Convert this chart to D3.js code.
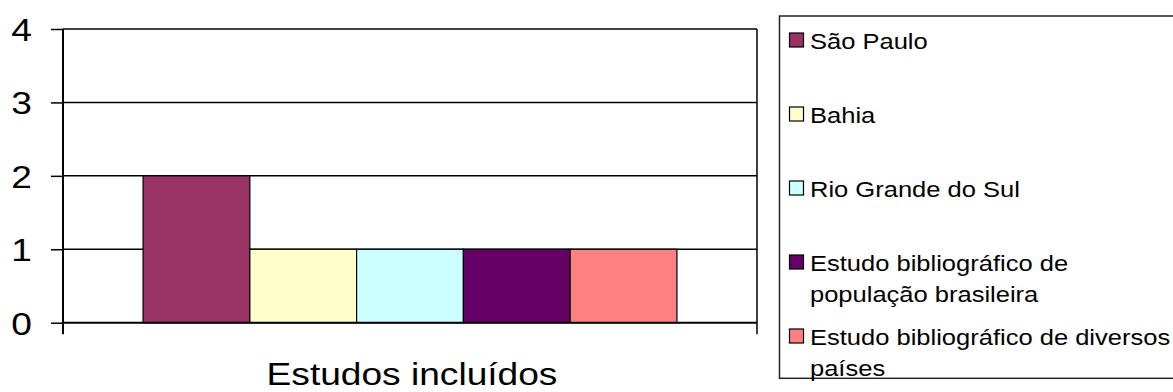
<!DOCTYPE html>
<html><head><meta charset="utf-8">
<script src="https://cdn.jsdelivr.net/npm/d3@7"></script>
<style>html,body{margin:0;padding:0;background:#fff;}svg{display:block;font-family:"Liberation Sans",Arial,sans-serif;}</style>
</head><body>
<svg id="c" width="1173" height="392"></svg>
<script>
const category = "Estudos incluídos";
const seriesNames = ["São Paulo","Bahia","Rio Grande do Sul","Estudo bibliográfico de população brasileira","Estudo bibliográfico de diversos países"];
const legendLines = [["São Paulo"],["Bahia"],["Rio Grande do Sul"],["Estudo bibliográfico de","população brasileira"],["Estudo bibliográfico de diversos","países"]];
const seriesValues = [2,1,1,1,1];
const seriesColors = ["#993366","#FFFFCC","#CCFFFF","#660066","#FF8080"];
const yTicks = [0,1,2,3,4];

const svg = d3.select("#c");
const L = 63, R = 757, T = 29, B = 322.7;
const SX = 1.16;

const y = d3.scaleLinear().domain([0,4]).range([B,T]);
const x0 = d3.scaleBand().domain([category]).range([L,R]);
const bw = x0.bandwidth()/6.5;
const x1 = d3.scaleBand().domain(seriesNames).range([0.75*bw, 5.75*bw]);

// gridlines
svg.append("g").selectAll("line").data(yTicks.filter(d=>d>0)).join("line")
  .attr("x1",L).attr("x2",R).attr("y1",d=>y(d)).attr("y2",d=>y(d))
  .attr("stroke","#000").attr("stroke-width",1.5);

// right border of plot area
svg.append("line").attr("x1",R).attr("x2",R).attr("y1",T).attr("y2",B+11.5)
  .attr("stroke","#000").attr("stroke-width",1.5);

// bars
svg.append("g").selectAll("rect").data(seriesNames).join("rect")
  .attr("x",d=>x0(category)+x1(d)).attr("width",x1.bandwidth())
  .attr("y",(d,i)=>y(seriesValues[i])).attr("height",(d,i)=>y(0)-y(seriesValues[i]))
  .attr("fill",(d,i)=>seriesColors[i]).attr("stroke","#000").attr("stroke-width",1.2);

// y axis
const ya = svg.append("g").attr("transform",`translate(${L},0)`)
  .call(d3.axisLeft(y).tickValues(yTicks).tickSize(12).tickSizeOuter(0).tickPadding(19).tickFormat(d3.format("d")));
ya.select(".domain").remove();
ya.selectAll(".tick line").attr("stroke","#000").attr("stroke-width",1.5);
ya.selectAll(".tick text").attr("font-size",32).attr("fill","#000")
  .attr("font-family",'"Liberation Sans",Arial,sans-serif')
  .each(function(){const t=d3.select(this);const xx=+t.attr("x");t.attr("x",0).attr("dy","0.36em").attr("transform",`translate(${xx},0) scale(${SX},1)`);});
svg.append("line").attr("x1",L).attr("x2",L).attr("y1",T).attr("y2",B+11.5).attr("stroke","#000").attr("stroke-width",2);
svg.append("line").attr("x1",L).attr("x2",R).attr("y1",B).attr("y2",B).attr("stroke","#000").attr("stroke-width",2);

// x axis title
svg.append("text").attr("text-anchor","middle").attr("font-size",32).attr("fill","#000")
  .attr("transform",`translate(${x0(category)+x0.bandwidth()/2+2},385) scale(${SX},1)`).text(category);

// legend
const lg = svg.append("g");
lg.append("rect").attr("x",779.5).attr("y",16).attr("width",430).attr("height",362.3)
  .attr("fill","none").attr("stroke","#222").attr("stroke-width",1.5);
const ly = d3.scaleLinear().domain([0,4]).range([40.5,336.5]);
const items = lg.selectAll("g.item").data(seriesNames).join("g").attr("class","item")
  .attr("transform",(d,i)=>`translate(789,${ly(i)})`);
items.append("rect").attr("x",0.5).attr("y",-7.5).attr("width",14).attr("height",14)
  .attr("fill",(d,i)=>seriesColors[i]).attr("stroke","#000").attr("stroke-width",1.2);
items.each(function(d,i){
  const g=d3.select(this);
  legendLines[i].forEach((ln,j)=>{
    g.append("text").attr("font-size",22).attr("fill","#000")
     .attr("transform",`translate(21,${8+j*31.8}) scale(${SX},1)`).text(ln);
  });
});
</script>
</body></html>
